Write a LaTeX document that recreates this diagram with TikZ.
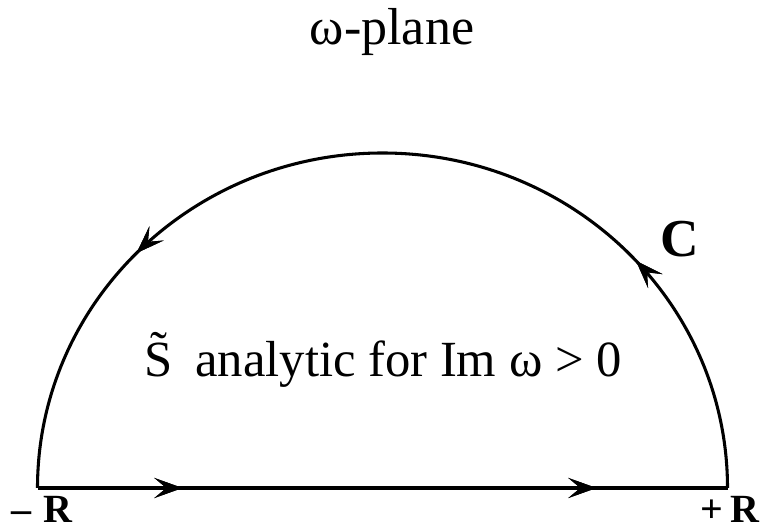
\documentclass[tikz,border=0pt]{standalone}
\usepackage{fontspec}
\setmainfont{Liberation Serif}
\usetikzlibrary{arrows.meta,decorations.markings}
\tikzset{
  ct/.style={line width=2.3pt,black},
  mk/.style={postaction={decorate},decoration={markings,
    mark=at position #1 with {\arrow{Stealth[length=21pt,width=15pt,inset=9pt]}}}},
  lab/.style={anchor=base,inner sep=0pt}
}
\begin{document}
\begin{tikzpicture}[x=0.75pt,y=0.75pt]
\useasboundingbox (0,0) rectangle (765,532);
\coordinate (mRpt) at (37.5,44);
\coordinate (pRpt) at (727.5,44);
% contour
\draw[ct,mk=0.21,mk=0.81] (mRpt) -- (pRpt);
\draw[ct,mk=0.235,mk=0.755] (pRpt) arc[start angle=0,end angle=180,x radius=345,y radius=335];
\node[lab,font=\fontsize{39}{40}\selectfont] (title) at (392,487) {ω-plane};
\node[lab,font=\fontsize{38}{40}\selectfont] (region) at (383,155) {\~{S}\hspace{0.45em}analytic for Im ω > 0};
\node[lab,font=\fontsize{30}{32}\selectfont\bfseries] (mR) at (42,9) {–\hspace{0.3em}R};
\node[lab,font=\fontsize{30}{32}\selectfont\bfseries] (pR) at (730,9) {+\hspace{0.2em}R};
\node[lab,font=\fontsize{40}{42}\selectfont\bfseries] (Clab) at (680,275) {C};
\end{tikzpicture}
\end{document}
